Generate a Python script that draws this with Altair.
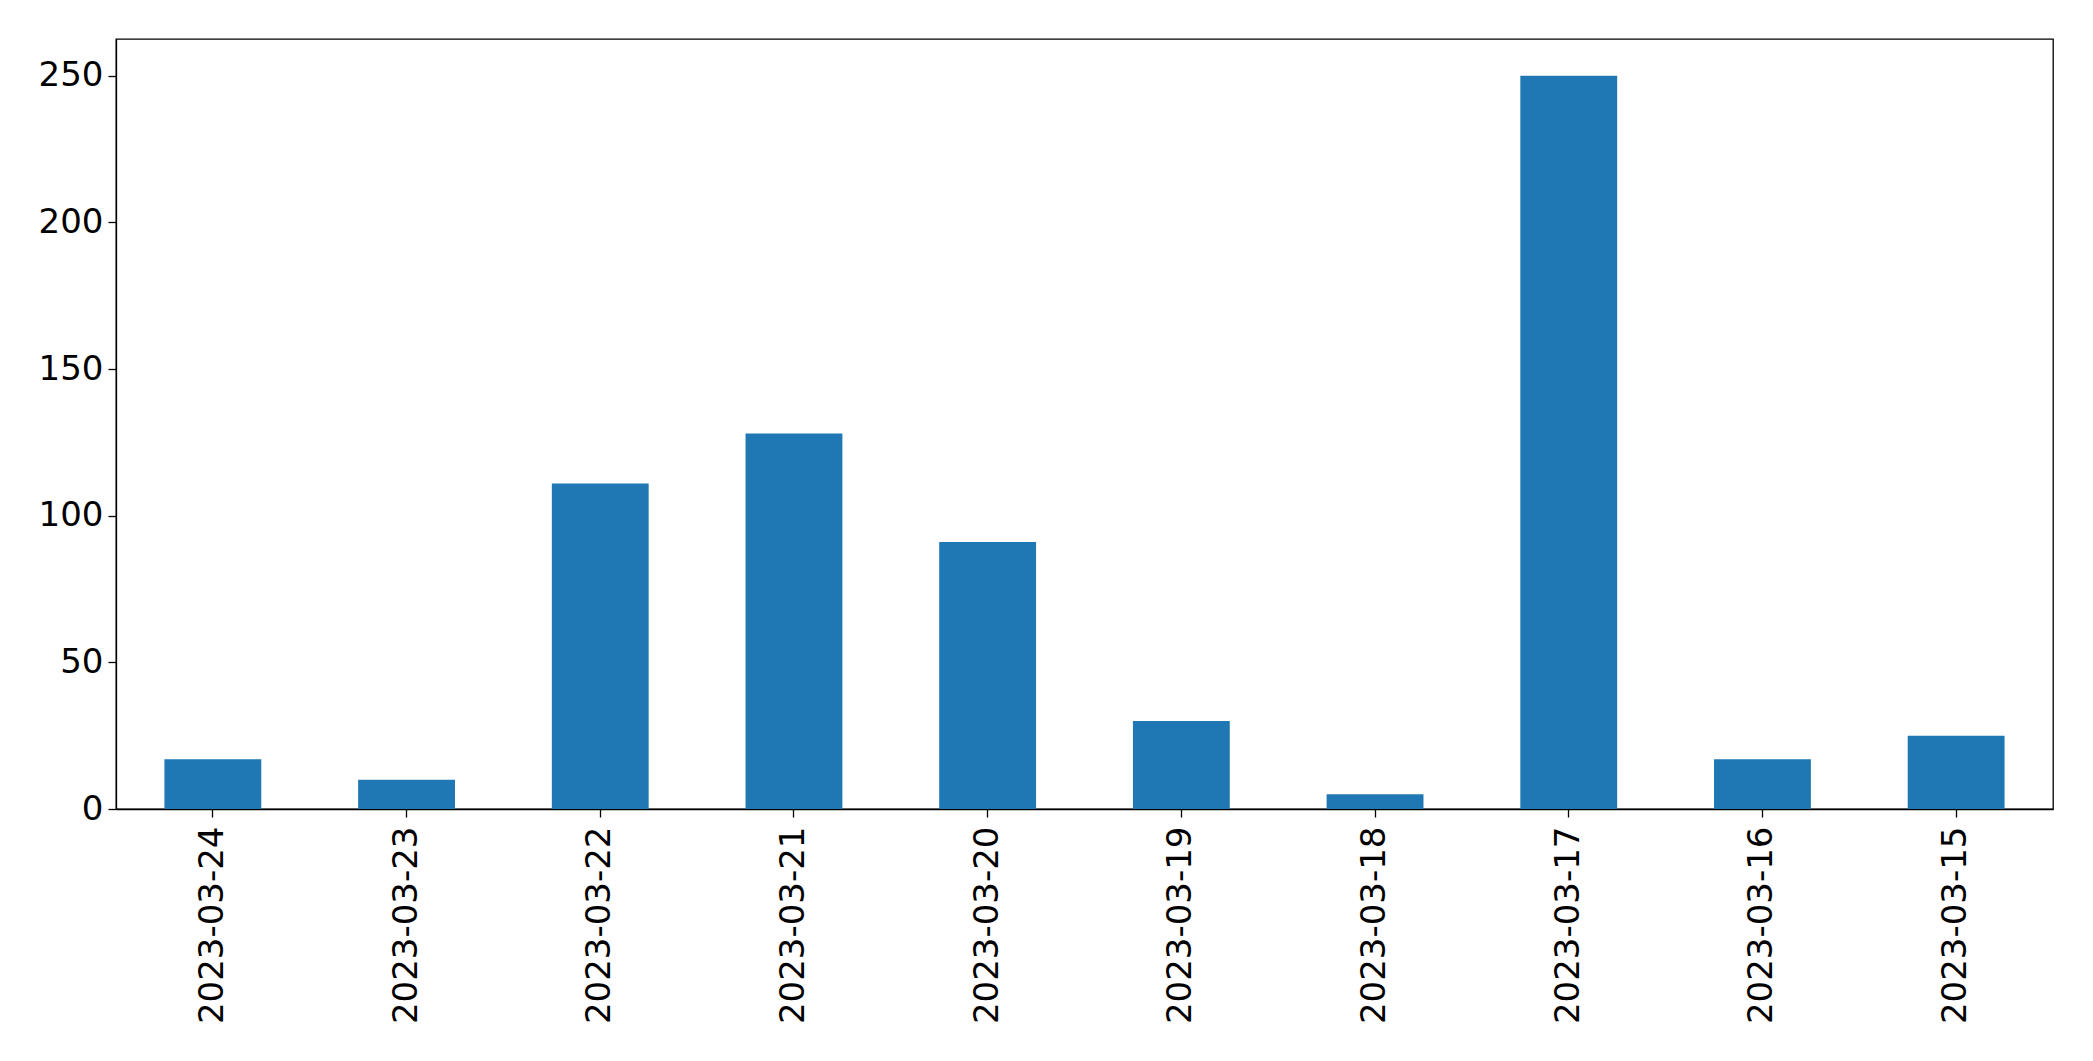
import altair as alt
import pandas as pd

dates = ["2023-03-24", "2023-03-23", "2023-03-22", "2023-03-21", "2023-03-20",
         "2023-03-19", "2023-03-18", "2023-03-17", "2023-03-16", "2023-03-15"]
counts = [17, 10, 111, 128, 91, 30, 5, 250, 17, 25]

df = pd.DataFrame({"date": dates, "count": counts})

chart = alt.Chart(df).mark_bar(color="#1f77b4").encode(
    x=alt.X("date:N", sort=dates, title=None,
            scale=alt.Scale(paddingInner=0.5, paddingOuter=0.25),
            axis=alt.Axis(labelAngle=270, labelFontSize=34, labelFont="DejaVu Sans",
                          labelColor="black", domainColor="black", tickColor="black",
                          tickSize=8, tickWidth=1.3, labelPadding=9, domainWidth=1.3,
                          labelOverlap=False, labelLimit=0)),
    y=alt.Y("count:Q", title=None,
            scale=alt.Scale(domain=[0, 262.5], nice=False, zero=True),
            axis=alt.Axis(values=[0, 50, 100, 150, 200, 250], labelFontSize=34,
                          labelFont="DejaVu Sans", labelColor="black", grid=False,
                          domainColor="black", tickColor="black", tickSize=8,
                          tickWidth=1.3, labelPadding=5, domainWidth=1.3)),
).properties(
    width=1937, height=770,
    autosize=alt.AutoSizeParams(type="none"),
    padding={"left": 108, "top": 31, "right": 20, "bottom": 230},
).configure_view(stroke="black", strokeWidth=1.3)

chart.save("out.html", embed_options={"renderer": "svg", "actions": False})
